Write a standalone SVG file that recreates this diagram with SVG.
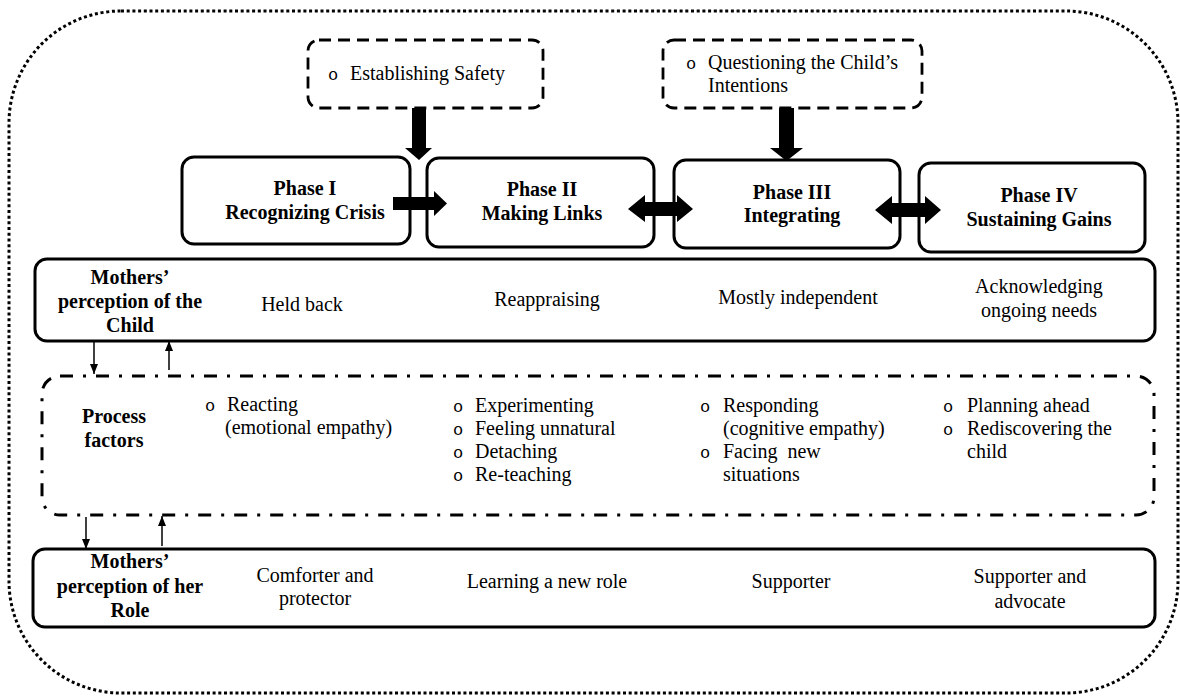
<svg xmlns="http://www.w3.org/2000/svg" width="1180" height="696" viewBox="0 0 1180 696">
  <style>
    text { font-family: "Liberation Serif", "Times New Roman", serif; font-size: 20px; fill: #000; }
    .b { font-weight: bold; }
    .mid { text-anchor: middle; }
    .bul { font-family: "Liberation Mono", "Courier New", monospace; font-size: 17px; text-anchor: middle; }
    .solid { fill: #fff; stroke: #000; stroke-width: 3; }
    .dash { fill: #fff; stroke: #000; stroke-width: 2.8; stroke-dasharray: 12 7; }
    .dashdot { fill: none; stroke: #000; stroke-width: 3; stroke-dasharray: 13 10 3 10; }
    .dotted { fill: none; stroke: #000; stroke-width: 3; stroke-dasharray: 3 2.7; }
    .thin { stroke: #000; stroke-width: 1.5; fill: none; marker-end: url(#tip); }
    .fat { fill: #000; stroke: none; }
  </style>
  <defs>
    <marker id="tip" markerUnits="userSpaceOnUse" markerWidth="10" markerHeight="10" viewBox="0 0 10 10" refX="10" refY="5" orient="auto">
      <path d="M0,1 L10,5 L0,9 Z" fill="#000"/>
    </marker>
  </defs>

  <!-- outer dotted frame -->
  <rect id="frame" class="dotted" x="9" y="11" width="1169" height="682" rx="112" ry="112"/>

  <!-- influencing factors (dashed) -->
  <g id="safety">
    <rect class="dash" x="308" y="40" width="235" height="68" rx="11"/>
    <text class="bul" x="333" y="80">o</text>
    <text x="350" y="80">Establishing Safety</text>
  </g>
  <g id="intentions">
    <rect class="dash" x="663" y="40" width="259" height="68" rx="11"/>
    <text class="bul" x="691" y="69">o</text>
    <text x="708" y="69">Questioning the Child’s</text>
    <text x="708" y="92">Intentions</text>
  </g>

  <!-- phases -->
  <g id="phase1">
    <rect class="solid" x="182" y="157" width="228" height="87" rx="12"/>
    <text class="b mid" x="305" y="195">Phase I</text>
    <text class="b mid" x="305" y="219">Recognizing Crisis</text>
  </g>
  <g id="phase2">
    <rect class="solid" x="427" y="158" width="227" height="89" rx="12"/>
    <text class="b mid" x="542" y="196">Phase II</text>
    <text class="b mid" x="542" y="220">Making Links</text>
  </g>
  <g id="phase3">
    <rect class="solid" x="674" y="160" width="226" height="88" rx="12"/>
    <text class="b mid" x="792" y="199">Phase III</text>
    <text class="b mid" x="792" y="222">Integrating</text>
  </g>
  <g id="phase4">
    <rect class="solid" x="919" y="163" width="226" height="89" rx="12"/>
    <text class="b mid" x="1039" y="202">Phase IV</text>
    <text class="b mid" x="1039" y="226">Sustaining Gains</text>
  </g>

  <!-- perception of the child -->
  <g id="child-row">
    <rect class="solid" x="35" y="259" width="1120" height="82" rx="12"/>
    <text class="b mid" x="130" y="284">Mothers’</text>
    <text class="b mid" x="130" y="308">perception of the</text>
    <text class="b mid" x="130" y="332">Child</text>
    <text class="mid" x="302" y="311">Held back</text>
    <text class="mid" x="547" y="306">Reappraising</text>
    <text class="mid" x="798" y="304">Mostly independent</text>
    <text class="mid" x="1039" y="293">Acknowledging</text>
    <text class="mid" x="1039" y="317">ongoing needs</text>
  </g>

  <!-- process factors -->
  <g id="process-row">
    <rect class="dashdot" x="42" y="376" width="1112" height="139" rx="18"/>
    <text class="b mid" x="114" y="423">Process</text>
    <text class="b mid" x="114" y="447">factors</text>

    <text class="bul" x="210" y="411">o</text>
    <text x="227" y="411">Reacting</text>
    <text x="225" y="434">(emotional empathy)</text>

    <text class="bul" x="458" y="412">o</text>
    <text x="475" y="412">Experimenting</text>
    <text class="bul" x="458" y="435">o</text>
    <text x="475" y="435">Feeling unnatural</text>
    <text class="bul" x="458" y="458">o</text>
    <text x="475" y="458">Detaching</text>
    <text class="bul" x="458" y="481">o</text>
    <text x="475" y="481">Re-teaching</text>

    <text class="bul" x="705" y="412">o</text>
    <text x="723" y="412">Responding</text>
    <text x="723" y="435">(cognitive empathy)</text>
    <text class="bul" x="705" y="458">o</text>
    <text x="723" y="458" word-spacing="5">Facing new</text>
    <text x="723" y="481">situations</text>

    <text class="bul" x="948" y="412">o</text>
    <text x="967" y="412">Planning ahead</text>
    <text class="bul" x="948" y="435">o</text>
    <text x="967" y="435">Rediscovering the</text>
    <text x="967" y="458">child</text>
  </g>

  <!-- perception of her role -->
  <g id="role-row">
    <rect class="solid" x="33" y="549" width="1122" height="78" rx="12"/>
    <text class="b mid" x="130" y="568">Mothers’</text>
    <text class="b mid" x="130" y="593">perception of her</text>
    <text class="b mid" x="130" y="617">Role</text>
    <text class="mid" x="315" y="582">Comforter and</text>
    <text class="mid" x="315" y="605">protector</text>
    <text class="mid" x="547" y="588">Learning a new role</text>
    <text class="mid" x="791" y="588">Supporter</text>
    <text class="mid" x="1030" y="583">Supporter and</text>
    <text class="mid" x="1030" y="608">advocate</text>
  </g>

  <!-- connectors -->
  <g id="connectors">
    <!-- block arrows from the dashed factors -->
    <polygon class="fat" points="412,108 426,108 426,148 432,148 419,160 405,148 412,148"/>
    <polygon class="fat" points="779,108 794,108 794,148 803,148 786.5,161 770,148 779,148"/>
    <!-- phase to phase -->
    <polygon class="fat" points="393,197 434,197 434,191 447,203.5 434,216 434,210 393,210"/>
    <polygon class="fat" points="628,209 645,195 645,202 677,202 677,195 693,209 677,222 677,216 645,216 645,222"/>
    <polygon class="fat" points="875,210 892,196 892,203 925,203 925,196 941,210 925,224 925,217 892,217 892,224"/>
    <!-- thin links between rows -->
    <line class="thin" x1="94" y1="342" x2="94" y2="374"/>
    <line class="thin" x1="169" y1="370" x2="169" y2="341"/>
    <line class="thin" x1="86" y1="517" x2="86" y2="549"/>
    <line class="thin" x1="162" y1="546" x2="162" y2="516"/>
  </g>
</svg>
